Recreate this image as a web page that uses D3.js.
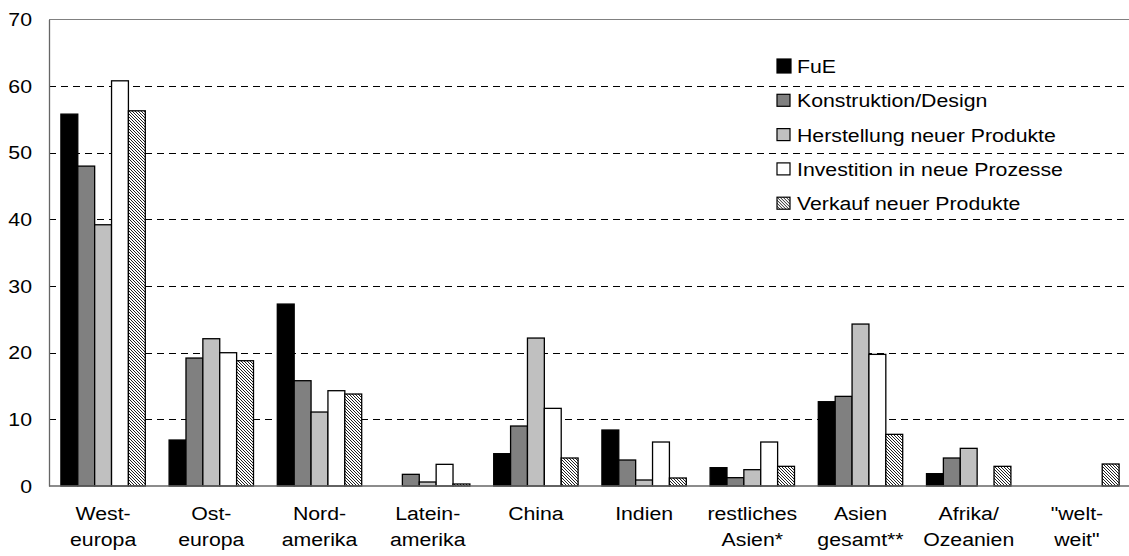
<!DOCTYPE html>
<html>
<head>
<meta charset="utf-8">
<script src="https://cdn.jsdelivr.net/npm/d3@7"></script>
<style>
  html, body { margin: 0; padding: 0; background: #fff; }
  svg { display: block; }
  text { font-family: "Liberation Sans", Arial, sans-serif; fill: #000; }
</style>
</head>
<body>
<svg id="chart" width="1129" height="556"></svg>
<script>
// ---- data ----
const categories = ["Westeuropa", "Osteuropa", "Nordamerika", "Lateinamerika", "China", "Indien", "restliches Asien*", "Asien gesamt**", "Afrika/Ozeanien", "\"weltweit\""];
const categoryLines = [["West-", "europa"], ["Ost-", "europa"], ["Nord-", "amerika"], ["Latein-", "amerika"], ["China"], ["Indien"], ["restliches", "Asien*"], ["Asien", "gesamt**"], ["Afrika/", "Ozeanien"], ["\"welt-", "weit\""]];
const seriesNames = ["FuE", "Konstruktion/Design", "Herstellung neuer Produkte", "Investition in neue Prozesse", "Verkauf neuer Produkte"];
const valuesFuE        = [55.8, 6.9, 27.3, 0, 4.85, 8.4, 2.75, 12.65, 1.85, 0];
const valuesKonstr     = [48.0, 19.2, 15.8, 1.75, 9.0, 3.9, 1.25, 13.45, 4.2, 0];
const valuesHerst      = [39.2, 22.1, 11.1, 0.6, 22.2, 0.9, 2.45, 24.3, 5.65, 0];
const valuesInvest     = [60.8, 20.0, 14.3, 3.25, 11.65, 6.6, 6.6, 19.75, 0, 0];
const valuesVerkauf    = [56.3, 18.8, 13.8, 0.3, 4.2, 1.2, 2.95, 7.75, 2.95, 3.3];
const yTicks = [0, 10, 20, 30, 40, 50, 60, 70];
const gridTicks = [10, 20, 30, 40, 50, 60];

const seriesValues = [valuesFuE, valuesKonstr, valuesHerst, valuesInvest, valuesVerkauf];

// ---- layout ----
const svg = d3.select("#chart");
const plotLeft = 49, plotBottom = 486, plotTop = 19.5, step = 108.2;
const fontSize = 19;
const sx = 1.12; // horizontal text stretch as in the original rendering

const defs = svg.append("defs");
const pat = defs.append("pattern").attr("id", "hatch").attr("patternUnits", "userSpaceOnUse")
  .attr("width", 3).attr("height", 3);
pat.append("rect").attr("width", 3).attr("height", 3).attr("fill", "#fff");
pat.append("path").attr("d", "M-1,-1 L4,4 M-1,2 L1,4 M2,-1 L4,1").attr("stroke", "#222").attr("stroke-width", 1);

const fills = ["#000000", "#808080", "#c0c0c0", "#ffffff", "url(#hatch)"];

const x = d3.scaleBand().domain(categories).range([plotLeft, plotLeft + step * categories.length])
  .paddingInner(0.22).paddingOuter(0.11);
const xs = d3.scaleBand().domain(seriesNames).range([0, x.bandwidth()]);
const y = d3.scaleLinear().domain([0, 70]).range([plotBottom, plotTop]);

// gridlines
svg.append("g").selectAll("line").data(gridTicks).join("line")
  .attr("x1", plotLeft).attr("x2", 1129)
  .attr("y1", d => Math.round(y(d)) + 0.5).attr("y2", d => Math.round(y(d)) + 0.5)
  .attr("stroke", "#000").attr("stroke-width", 1).attr("stroke-dasharray", "7,5");

// top border
svg.append("line").attr("x1", plotLeft).attr("x2", 1129).attr("y1", plotTop).attr("y2", plotTop)
  .attr("stroke", "#808080").attr("stroke-width", 1.2);

// bars
const rows = [];
categories.forEach((c, i) => seriesNames.forEach((s, j) => {
  rows.push({ c, s, j, v: seriesValues[j][i] });
}));
svg.append("g").selectAll("rect").data(rows.filter(d => d.v > 0)).join("rect")
  .attr("x", d => x(d.c) + xs(d.s))
  .attr("y", d => y(d.v))
  .attr("width", xs.bandwidth())
  .attr("height", d => y(0) - y(d.v))
  .attr("fill", d => fills[d.j])
  .attr("stroke", "#000").attr("stroke-width", 1.3);

// y axis
const yAxis = svg.append("g").attr("transform", `translate(${plotLeft},0)`)
  .call(d3.axisLeft(y).tickValues(yTicks).tickSize(0).tickPadding(17));
yAxis.select(".domain").attr("stroke", "#666").attr("stroke-width", 1.3);
yAxis.selectAll("text").style("font-family", "\"Liberation Sans\", Arial, sans-serif")
  .style("font-size", fontSize + "px").attr("fill", "#000")
  .attr("x", -17 / sx).attr("transform", `scale(${sx},1)`);

// x axis line
svg.append("line").attr("x1", plotLeft).attr("x2", 1129).attr("y1", plotBottom).attr("y2", plotBottom)
  .attr("stroke", "#666").attr("stroke-width", 1.3);

// category labels
const lbl = svg.append("g").selectAll("text").data(categories).join("text")
  .attr("text-anchor", "middle").style("font-size", fontSize + "px")
  .attr("transform", d => `translate(${x(d) + x.bandwidth() / 2},0) scale(${sx},1)`);
lbl.each(function(d, i) {
  const t = d3.select(this);
  categoryLines[i].forEach((line, k) => {
    t.append("tspan").attr("x", 0).attr("y", 520 + k * 26).text(line);
  });
});

// legend
const lg = svg.append("g").selectAll("g").data(seriesNames).join("g")
  .attr("transform", (d, i) => `translate(777, ${66 + i * 34.3})`);
lg.append("rect").attr("x", 0).attr("y", (d, i) => i === 0 ? -7 : -6)
  .attr("width", (d, i) => i === 0 ? 14 : 13).attr("height", (d, i) => i === 0 ? 14 : 12)
  .attr("fill", (d, i) => fills[i]).attr("stroke", "#000").attr("stroke-width", 1.2);
lg.append("text").attr("transform", `translate(20,7) scale(${sx},1)`)
  .style("font-size", fontSize + "px").text(d => d);
</script>
</body>
</html>
